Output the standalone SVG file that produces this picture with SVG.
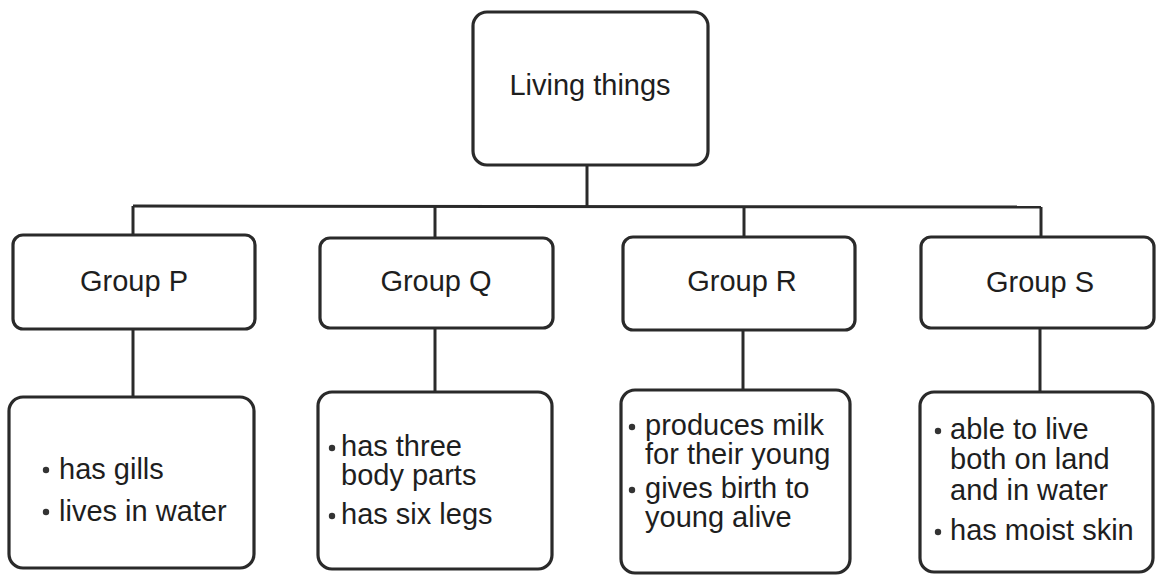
<svg xmlns="http://www.w3.org/2000/svg" width="1159" height="575" viewBox="0 0 1159 575">
<style>
.box{fill:#fff;stroke:#2a2a2a;stroke-width:3.2}
.ln{fill:none;stroke:#2a2a2a;stroke-width:3}
.h{font-family:"Liberation Sans",Arial,sans-serif;font-size:29px;fill:#1e1e1e;text-anchor:middle}
.t{font-family:"Liberation Sans",Arial,sans-serif;font-size:29px;fill:#1e1e1e}
.b{fill:#333}
</style>
<rect width="1159" height="575" fill="#fff"/>
<g id="connectors">
<path class="ln" d="M587 165 V206"/>
<path class="ln" d="M133 206 L1041 207"/>
<path class="ln" d="M133 206 V235"/>
<path class="ln" d="M435 206 V238"/>
<path class="ln" d="M744 207 V237"/>
<path class="ln" d="M1041 207 V237"/>
<path class="ln" d="M133 329 V397"/>
<path class="ln" d="M435 328 V392"/>
<path class="ln" d="M743 330 V390"/>
<path class="ln" d="M1040 328 V392"/>
</g>
<g id="living-things">
<rect class="box" x="473" y="12" width="235" height="153" rx="14"/>
<text class="h" x="590" y="95">Living things</text>
</g>
<g id="group-p">
<rect class="box" x="13" y="235" width="242" height="94" rx="10"/>
<text class="h" x="134" y="291">Group P</text>
</g>
<g id="group-q">
<rect class="box" x="320" y="238" width="233" height="90" rx="10"/>
<text class="h" x="436" y="291">Group Q</text>
</g>
<g id="group-r">
<rect class="box" x="623" y="237" width="232" height="93" rx="10"/>
<text class="h" x="742" y="291">Group R</text>
</g>
<g id="group-s">
<rect class="box" x="921" y="237" width="233" height="91" rx="10"/>
<text class="h" x="1040" y="292">Group S</text>
</g>
<g id="p-traits">
<rect class="box" x="9" y="397" width="245" height="171" rx="14"/>
<circle class="b" cx="46" cy="470" r="3.2"/>
<circle class="b" cx="46" cy="512" r="3.2"/>
<text class="t" x="59" y="479">has gills</text>
<text class="t" x="59" y="521">lives in water</text>
</g>
<g id="q-traits">
<rect class="box" x="318" y="392" width="234" height="177" rx="14"/>
<circle class="b" cx="332" cy="448" r="3.2"/>
<circle class="b" cx="332" cy="516" r="3.2"/>
<text class="t" x="341" y="456">has three</text>
<text class="t" x="341" y="485">body parts</text>
<text class="t" x="341" y="524">has six legs</text>
</g>
<g id="r-traits">
<rect class="box" x="621" y="390" width="229" height="183" rx="14"/>
<circle class="b" cx="632" cy="427" r="3.2"/>
<circle class="b" cx="632" cy="490" r="3.2"/>
<text class="t" x="645" y="435">produces milk</text>
<text class="t" x="645" y="464">for their young</text>
<text class="t" x="645" y="498">gives birth to</text>
<text class="t" x="645" y="527">young alive</text>
</g>
<g id="s-traits">
<rect class="box" x="920" y="392" width="233" height="180" rx="14"/>
<circle class="b" cx="938" cy="431" r="3.2"/>
<circle class="b" cx="938" cy="532" r="3.2"/>
<text class="t" x="950" y="439">able to live</text>
<text class="t" x="950" y="469">both on land</text>
<text class="t" x="950" y="500">and in water</text>
<text class="t" x="950" y="540">has moist skin</text>
</g>
</svg>
